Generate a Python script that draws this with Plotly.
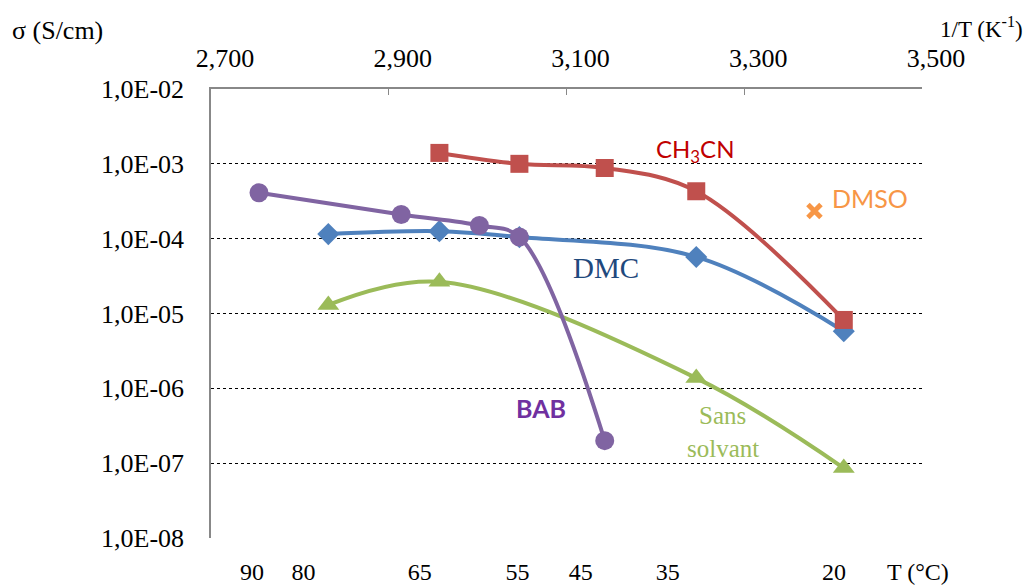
import math
import plotly.graph_objects as go

# 1/T values (x1000, K^-1) and conductivities (S/cm)
dmc_x = [2832, 2957, 3047, 3246, 3412]
dmc_y = [1.15e-4, 1.26e-4, 1.05e-4, 5.7e-5, 5.8e-6]

ch3cn_x = [2957, 3047, 3143, 3246, 3412]
ch3cn_y = [1.4e-3, 1.0e-3, 8.8e-4, 4.3e-4, 8.2e-6]

bab_x = [2754, 2914, 3002, 3047, 3143]
bab_y = [4.1e-4, 2.1e-4, 1.5e-4, 1.05e-4, 2.0e-7]

sans_x = [2832, 2957, 3246, 3412]
sans_y = [1.3e-5, 2.65e-5, 1.37e-6, 8.6e-8]

dmso_x = [3379]
dmso_y = [2.35e-4]

top_ticks = [2700, 2900, 3100, 3300, 3500]
top_labels = ["2,700", "2,900", "3,100", "3,300", "3,500"]
y_ticks = [1e-8, 1e-7, 1e-6, 1e-5, 1e-4, 1e-3, 1e-2]
y_labels = ["1,0E-08", "1,0E-07", "1,0E-06", "1,0E-05", "1,0E-04", "1,0E-03", "1,0E-02"]
temp_labels = ["90", "80", "65", "55", "45", "35", "20"]
# where the temperature text boxes sit along the 1/T axis in the original
temp_label_pos = [2746, 2804, 2935, 3045, 3116, 3214, 3401]

SERIF = "Liberation Serif"
SANS = "Lato"
FS = 26

fig = go.Figure()

def add_series(x, y, color, symbol, size):
    fig.add_trace(go.Scatter(
        x=x, y=y, mode="lines+markers",
        line=dict(color=color, width=4, shape="spline", smoothing=1.0),
        marker=dict(symbol=symbol, size=size, color=color),
        showlegend=False, xaxis="x", yaxis="y"))

add_series(sans_x, sans_y, "#9BBB59", "triangle-up", 19)
add_series(dmc_x, dmc_y, "#4F81BD", "diamond", 17)
add_series(bab_x, bab_y, "#8064A2", "circle", 19)
add_series(ch3cn_x, ch3cn_y, "#C0504D", "square", 18)

fig.add_trace(go.Scatter(
    x=dmso_x, y=dmso_y, mode="markers",
    marker=dict(symbol="x-thin", size=13, color="#F79646",
                line=dict(color="#F79646", width=5)),
    showlegend=False, xaxis="x", yaxis="y"))

# dummy trace to activate the bottom temperature axis
fig.add_trace(go.Scatter(x=[top_ticks[0]], y=[y_ticks[0]], mode="markers",
                         marker=dict(opacity=0), showlegend=False,
                         hoverinfo="skip", xaxis="x2", yaxis="y"))

# page body has an 8px margin, so the figure is a bit smaller than the window
fig.update_layout(
    width=1028, height=577,
    margin=dict(l=203, r=114, t=81, b=47),
    plot_bgcolor="white", paper_bgcolor="white",
    font=dict(family=SERIF, size=FS, color="black"),
    xaxis=dict(
        side="top", range=[2700, 3500], tickvals=top_ticks, ticktext=top_labels,
        showgrid=False, zeroline=False, showline=True, linecolor="#888888",
        linewidth=1.5, ticks="inside", ticklen=6, tickcolor="#888888",
        ticklabelstandoff=10, ticklabelshift=14, automargin=False,
        tickfont=dict(family=SERIF, size=FS, color="black")),
    xaxis2=dict(
        overlaying="x", side="bottom", anchor="y", range=[2700, 3500],
        tickvals=temp_label_pos, ticktext=temp_labels,
        showgrid=False, zeroline=False, showline=False, ticks="",
        ticklabelstandoff=17, automargin=False,
        tickfont=dict(family=SERIF, size=24, color="black")),
    yaxis=dict(
        type="log", range=[-8, -2], tickvals=y_ticks, ticktext=y_labels,
        showgrid=True, gridcolor="black", griddash="dot", gridwidth=1,
        zeroline=False, showline=True, linecolor="#888888", linewidth=1.5,
        ticks="", ticklabelstandoff=20, automargin=False,
        tickfont=dict(family=SERIF, size=FS, color="black")),
)

# axis titles, positioned relative to the plot area
annotations = [
    dict(x=-0.283, y=1.131, text="σ (S/cm)", size=FS),
    dict(x=1.022, y=1.136, text="1/T (K<sup>-1</sup>)", size=23),
    dict(x=0.948, y=-0.076, text="T (°C)", size=24),
]
for a in annotations:
    fig.add_annotation(xref="paper", yref="paper", xanchor="left", yanchor="middle",
                       showarrow=False, x=a["x"], y=a["y"], text=a["text"],
                       font=dict(family=SERIF, size=a["size"]))

# series labels placed in data coordinates
labels = [
    (3245, 1.53e-3, "CH<sub>3</sub>CN", SANS, "#C00000", False, 24),
    (3441, 3.5e-4, "DMSO", SANS, "#F79646", False, 25),
    (3145, 4.06e-5, "DMC", SERIF, "#1F497D", False, 29),
    (3071, 5.46e-7, "BAB", SANS, "#7030A0", True, 25),
    (3276, 4.27e-7, "Sans", SERIF, "#9BBB59", False, 25),
    (3276, 1.59e-7, "solvant", SERIF, "#9BBB59", False, 25),
]
for x, y, txt, fam, col, bold, size in labels:
    fig.add_annotation(x=x, y=math.log10(y), xref="x", yref="y",
                       text=f"<b>{txt}</b>" if bold else txt, showarrow=False,
                       xanchor="center", yanchor="middle",
                       font=dict(family=fam, size=size, color=col))

fig.write_html("out.html")
